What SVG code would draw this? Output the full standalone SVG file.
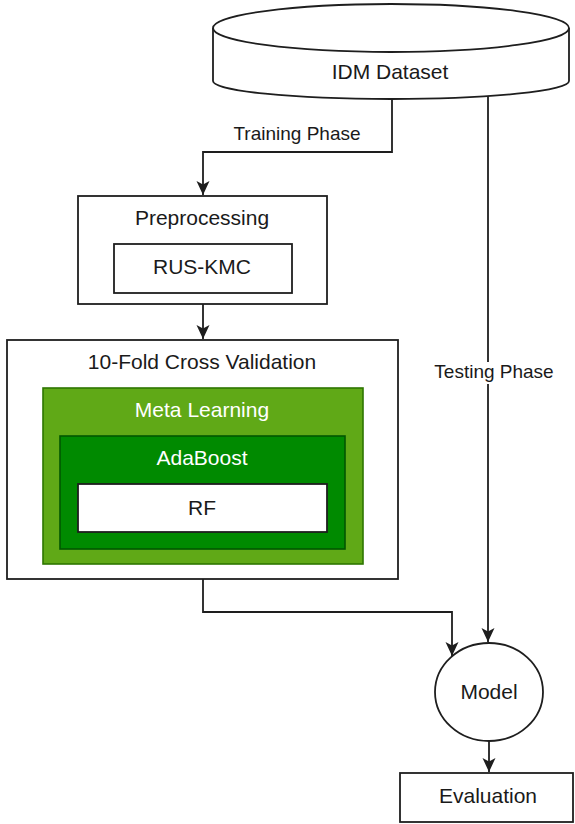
<svg xmlns="http://www.w3.org/2000/svg" width="575" height="824" viewBox="0 0 575 824">
<style>
.s{fill:#fff;stroke:#1e1e1e;stroke-width:1.8}
.t{font-family:"Liberation Sans",Arial,sans-serif;font-size:21px;fill:#1a1a1a;text-anchor:middle}
.e{font-family:"Liberation Sans",Arial,sans-serif;font-size:19px;fill:#1a1a1a;text-anchor:middle}
.w{fill:#fff}
.c{fill:none;stroke:#1e1e1e;stroke-width:1.8}
</style>
<defs>
<marker id="a" markerUnits="userSpaceOnUse" markerWidth="16" markerHeight="16" viewBox="0 0 16 16" refX="14" refY="8" orient="auto">
<path d="M0,1.5 L14,8 L0,14.5 L3.5,8 Z" fill="#1e1e1e"/>
</marker>
</defs>
<rect width="575" height="824" fill="#fff"/>
<g id="connectors">
<path class="c" d="M392,99 V152 H203 V195" marker-end="url(#a)"/>
<path class="c" d="M203,304 V339" marker-end="url(#a)"/>
<path class="c" d="M488,96 V642" marker-end="url(#a)"/>
<path class="c" d="M203,579 V612 H452 V656" marker-end="url(#a)"/>
<path class="c" d="M489,741 V772" marker-end="url(#a)"/>
<rect x="431" y="362" width="126" height="22" fill="#fff"/>
<text class="e" x="297" y="140">Training Phase</text>
<text class="e" x="494" y="378">Testing Phase</text>
</g>
<g id="dataset">
<path class="s" d="M213,28 A178,24 0 0,1 569,28 L569,81 A178,18 0 0,1 213,81 Z"/>
<path class="c" d="M213,28 A178,24 0 0,0 569,28"/>
<text class="t" x="390" y="79">IDM Dataset</text>
</g>
<g id="preprocessing">
<rect class="s" x="78" y="196" width="249" height="108"/>
<text class="t" x="202" y="225">Preprocessing</text>
</g>
<g id="rus-kmc">
<rect class="s" x="114" y="244" width="178" height="49"/>
<text class="t" x="202" y="274">RUS-KMC</text>
</g>
<g id="cross-validation">
<rect class="s" x="7" y="340" width="391" height="239"/>
<text class="t" x="202" y="369">10-Fold Cross Validation</text>
</g>
<g id="meta-learning">
<rect x="43" y="388" width="320" height="176" fill="#60a917" stroke="#2d7600" stroke-width="1.6"/>
<text class="t w" x="202" y="417">Meta Learning</text>
</g>
<g id="adaboost">
<rect x="60" y="436" width="285" height="113" fill="#008a00" stroke="#005700" stroke-width="1.6"/>
<text class="t w" x="202" y="465">AdaBoost</text>
</g>
<g id="rf">
<rect class="s" x="78" y="484" width="249" height="48"/>
<text class="t" x="202" y="515">RF</text>
</g>
<g id="model">
<ellipse class="s" cx="489" cy="692" rx="54" ry="49"/>
<text class="t" x="489" y="699">Model</text>
</g>
<g id="evaluation">
<rect class="s" x="400" y="773" width="173" height="49"/>
<text class="t" x="488" y="803">Evaluation</text>
</g>
</svg>
